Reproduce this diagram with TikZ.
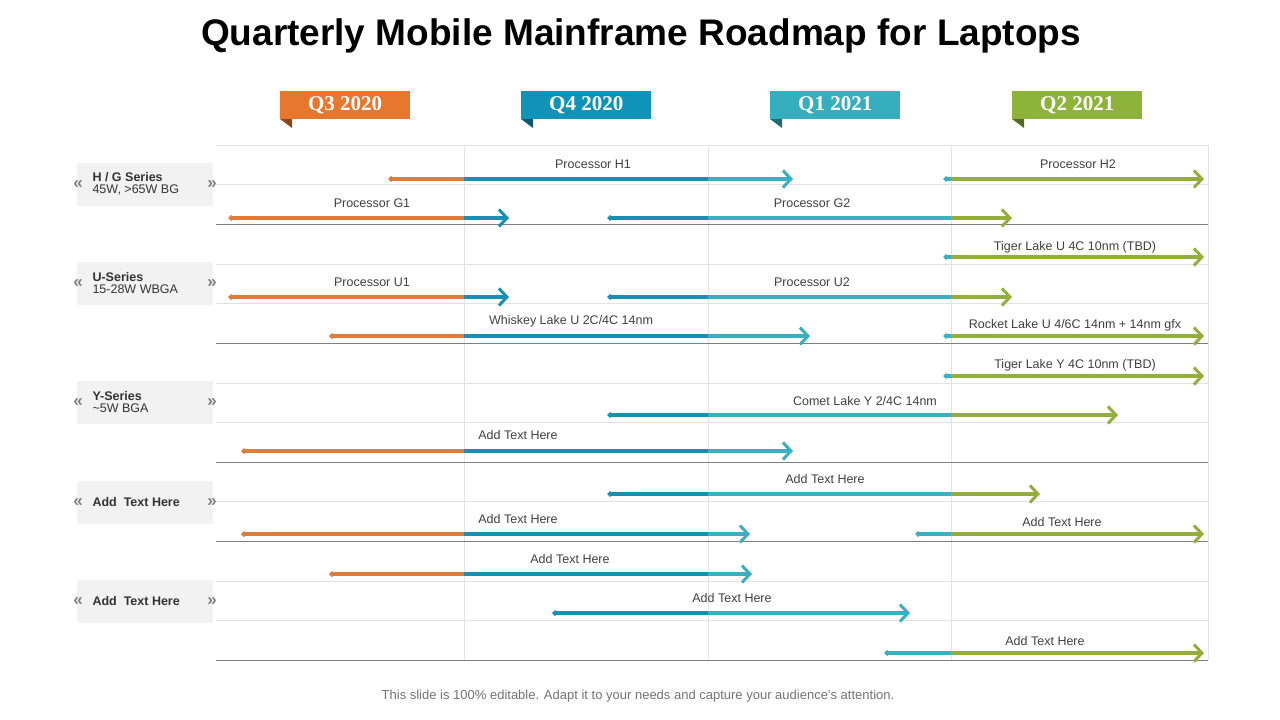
\documentclass[tikz,border=0pt]{standalone}
\usepackage{fontspec}
\setmainfont{Liberation Sans}
\newfontfamily\serifb{Liberation Serif}
\usetikzlibrary{arrows.meta}
\definecolor{cO}{HTML}{E07B39}
\definecolor{cB}{HTML}{1A8FB4}
\definecolor{cT}{HTML}{3AAFBF}
\definecolor{cG}{HTML}{93AE3A}
\definecolor{bO}{HTML}{E8772E}
\definecolor{bB}{HTML}{0F93B8}
\definecolor{bT}{HTML}{35AEBE}
\definecolor{bG}{HTML}{8EB33A}
\definecolor{gridl}{HTML}{E2E2E2}
\definecolor{gridd}{HTML}{7F7F7F}
\definecolor{boxf}{HTML}{F2F2F2}
\tikzset{
 arrline/.style={line width=4pt,{Turned Square[length=6pt,width=6pt]}-{Straight Barb[length=8pt,width=17pt,line width=3pt]}},
 lbl/.style={font=\fontsize{12.5}{14}\selectfont,text=black!75},
 banner/.style={font=\serifb\bfseries\fontsize{21}{24}\selectfont,text=white,minimum width=130pt,minimum height=28pt,inner sep=0pt},
 sbox/.style={fill=boxf,minimum width=136pt,minimum height=43pt,inner sep=0pt},
 stxt/.style={anchor=west,align=left,font=\fontsize{12.5}{14}\selectfont,text=black!80},
 chev/.style={text=gray,font=\bfseries\fontsize{17}{17}\selectfont},
}
\newcommand\rarr[6]{% y x1 x2 label lx ly
 \foreach \a/\b/\c in {0/464/cO,464/708/cB,708/951/cT,951/1280/cG}{%
  \begin{scope}\clip (\a,0) rectangle (\b,720); \draw[arrline,\c] (#2,#1) -- (#3,#1); \end{scope}}
 \node[lbl] at (#5,#6) {#4};}
\begin{document}
\begin{tikzpicture}[x=1pt,y=-1pt]
\useasboundingbox[fill=white] (0,0) rectangle (1280,720);
\node[font=\bfseries\fontsize{37}{42}\selectfont] (title) at (641,36) {Quarterly Mobile Mainframe Roadmap for Laptops};
% grid
\foreach \y in {145,184,264,303,383,422,501,581,620} \draw[gridl,line width=1pt] (216,\y) -- (1208,\y);
\foreach \x in {464,708,951,1208} \draw[gridl,line width=1pt] (\x,145) -- (\x,660);
\foreach \y in {224,343,462,541,660} \draw[gridd,line width=0.8pt] (216,\y) -- (1208,\y);
% banners
\foreach \n/\x/\c/\t in {q3/280/bO/Q3 2020,q4/521/bB/Q4 2020,q1/770/bT/Q1 2021,q2/1012/bG/Q2 2021}{
 \fill[\c!60!black] (\x,119) -- (\x+12,119) -- (\x+12,128) -- cycle;
 \node[banner,fill=\c,anchor=north west] (\n) at (\x,91) {\t};
}
% side boxes
\foreach \n/\y in {hg/184,us/283,ys/402,a1/502,a2/601}{
 \node[sbox] (\n) at (145,\y) {};
 \node[chev] at (78,\y+1) {«};
 \node[chev] at (212,\y+1) {»};
}
\node[stxt] (thg) at (89,184) {\textbf{H / G Series}\\[-2pt]45W, >65W BG};
\node[stxt] (tus) at (89,283) {\textbf{U-Series}\\[-2pt]15-28W WBGA};
\node[stxt] (tys) at (89,402) {\textbf{Y-Series}\\[-2pt]\textasciitilde5W BGA};
\node[stxt] (ta1) at (89,502) {\textbf{Add\ \ Text Here}};
\node[stxt] (ta2) at (89,601) {\textbf{Add\ \ Text Here}};
% arrows
\rarr{179}{388}{793}{Processor H1}{593}{164}
\rarr{179}{943}{1204}{Processor H2}{1078}{164}
\rarr{218}{228}{509}{Processor G1}{372}{203}
\rarr{218}{607}{1012}{Processor G2}{812}{203}
\rarr{257}{943}{1204}{Tiger Lake U 4C 10nm (TBD)}{1075}{247}
\rarr{297}{228}{509}{Processor U1}{372}{282}
\rarr{297}{607}{1012}{Processor U2}{812}{282}
\rarr{336}{329}{810}{Whiskey Lake U 2C/4C 14nm}{571}{321}
\rarr{336}{943}{1204}{Rocket Lake U 4/6C 14nm + 14nm gfx}{1075}{325}
\rarr{376}{943}{1204}{Tiger Lake Y 4C 10nm (TBD)}{1075}{365}
\rarr{415}{607}{1118}{Comet Lake Y 2/4C 14nm}{865}{401}
\rarr{451}{241}{793}{Add Text Here}{518}{435}
\rarr{494}{607}{1040}{Add Text Here}{825}{479}
\rarr{534}{241}{750}{Add Text Here}{518}{519}
\rarr{534}{915}{1204}{Add Text Here}{1062}{522}
\rarr{574}{329}{752}{Add Text Here}{570}{559}
\rarr{613}{552}{910}{Add Text Here}{732}{598}
\rarr{653}{884}{1204}{Add Text Here}{1045}{641}
\node[font=\fontsize{13}{14}\selectfont,text=black!55] (foot) at (638,696) {This slide is 100\% editable. Adapt it to your needs and capture your audience's attention.};
\end{tikzpicture}
\end{document}
